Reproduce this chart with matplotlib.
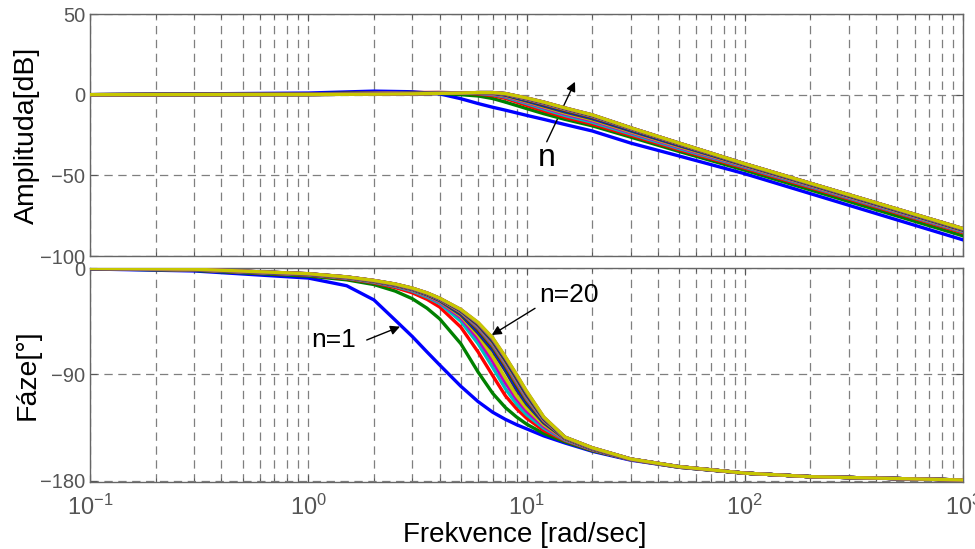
import matplotlib
matplotlib.use('Agg')
import matplotlib.pyplot as plt
from matplotlib.ticker import LogLocator, NullFormatter, FixedLocator

plt.rcParams['font.family'] = ['Liberation Sans', 'DejaVu Sans']
plt.rcParams['lines.scale_dashes'] = False

# ---------------- data ----------------
freq_mag = [0.1, 1, 2, 3, 4, 5, 6, 7, 8, 10, 12, 15, 20, 30, 50, 100, 1000]
mag_01 = [0, 1.0, 2.2, 1.8, 0.5, -2.5, -5.5, -7.8, -9.6, -12.8, -15.3, -18.5, -22.5, -30.0, -38.0, -49.0, -90.0]
mag_02 = [0, 0.5, 1.2, 1.3, 0.8, 0.0, -0.8, -2.4, -4.6, -8.6, -11.8, -15.3, -19.3, -26.3, -35.2, -46.8, -87.5]
mag_03 = [0, 0.4, 1.0, 1.3, 1.4, 1.1, 0.5, -0.6, -2.3, -6.6, -10.0, -14.0, -18.2, -25.2, -34.2, -45.6, -85.6]
mag_04 = [0, 0.35, 0.85, 1.15, 1.3, 1.15, 0.8, 0.0, -1.5, -5.5, -8.9, -12.9, -17.1, -24.3, -33.4, -44.9, -85.0]
mag_05 = [0, 0.3, 0.75, 1.05, 1.2, 1.15, 0.95, 0.35, -1.0, -4.8, -8.1, -12.0, -16.2, -23.5, -32.7, -44.4, -84.6]
mag_06 = [0, 0.25, 0.65, 0.95, 1.1, 1.1, 1.05, 0.6, -0.6, -4.3, -7.5, -11.3, -15.5, -22.9, -32.1, -44.0, -84.3]
mag_07 = [0, 0.22, 0.58, 0.85, 1.0, 1.05, 1.1, 0.8, -0.3, -3.9, -7.0, -10.7, -14.9, -22.4, -31.6, -43.7, -84.0]
mag_08 = [0, 0.2, 0.52, 0.78, 0.95, 1.05, 1.15, 0.95, -0.05, -3.5, -6.5, -10.2, -14.4, -22.0, -31.2, -43.5, -83.8]
mag_09 = [0, 0.18, 0.47, 0.72, 0.92, 1.03, 1.18, 1.05, 0.12, -3.2, -6.1, -9.8, -14.0, -21.6, -30.9, -43.3, -83.6]
mag_10 = [0, 0.16, 0.43, 0.67, 0.89, 1.02, 1.2, 1.12, 0.25, -2.95, -5.8, -9.4, -13.7, -21.3, -30.7, -43.2, -83.5]
mag_11 = [0, 0.15, 0.4, 0.63, 0.87, 1.01, 1.22, 1.17, 0.35, -2.75, -5.5, -9.1, -13.4, -21.1, -30.5, -43.1, -83.4]
mag_12 = [0, 0.14, 0.38, 0.6, 0.85, 1.0, 1.24, 1.21, 0.43, -2.6, -5.3, -8.9, -13.2, -20.95, -30.4, -43.0, -83.3]
mag_13 = [0, 0.13, 0.36, 0.57, 0.84, 1.0, 1.25, 1.24, 0.5, -2.45, -5.1, -8.7, -13.0, -20.8, -30.3, -43.0, -83.25]
mag_14 = [0, 0.12, 0.34, 0.55, 0.83, 1.0, 1.26, 1.26, 0.55, -2.35, -4.95, -8.55, -12.9, -20.7, -30.2, -42.95, -83.2]
mag_15 = [0, 0.12, 0.33, 0.54, 0.82, 1.0, 1.27, 1.27, 0.6, -2.25, -4.85, -8.45, -12.8, -20.65, -30.15, -42.9, -83.15]
mag_16 = [0, 0.11, 0.32, 0.53, 0.81, 1.0, 1.28, 1.28, 0.63, -2.18, -4.75, -8.38, -12.7, -20.6, -30.1, -42.9, -83.1]
mag_17 = [0, 0.11, 0.31, 0.52, 0.81, 1.0, 1.29, 1.29, 0.66, -2.12, -4.68, -8.3, -12.6, -20.55, -30.05, -42.85, -83.05]
mag_18 = [0, 0.1, 0.3, 0.51, 0.8, 1.0, 1.3, 1.3, 0.68, -2.07, -4.63, -8.25, -12.55, -20.52, -30.02, -42.82, -83.03]
mag_19 = [0, 0.1, 0.3, 0.5, 0.8, 1.0, 1.3, 1.3, 0.69, -2.03, -4.6, -8.22, -12.52, -20.5, -30.0, -42.8, -83.01]
mag_20 = [0, 0.1, 0.3, 0.5, 0.8, 1.0, 1.3, 1.3, 0.7, -2.0, -4.6, -8.2, -12.5, -20.5, -30.0, -42.8, -83.0]

freq_phase = [0.1, 0.3, 1, 1.5, 2, 2.5, 3, 3.5, 4, 5, 6, 7, 8, 9, 10, 12, 15, 20, 30, 50, 100, 200, 1000]
phase_01 = [-0.8, -2.5, -8.5, -15, -27, -44, -58, -71, -82, -100, -113, -122, -128, -132.5, -136, -142, -148, -155, -162.5, -168.5, -173.5, -176.5, -179.3]
phase_02 = [-0.6, -2.0, -6.8, -10, -14, -19.5, -26, -34, -43, -64, -88, -106, -118, -126, -132, -140, -147, -154.5, -162, -168.5, -173.5, -176.5, -179.3]
phase_03 = [-0.5, -1.7, -6.0, -9, -12.5, -16.5, -21, -26.5, -33, -50, -71, -91, -108, -119, -127, -137.5, -146, -154, -162, -168.5, -173.5, -176.5, -179.3]
phase_04 = [-0.5, -1.6, -5.7, -8.6, -12, -15.5, -19.5, -24.5, -30, -45, -64, -84, -102, -115, -124, -135.5, -145.5, -153.7, -162, -168.5, -173.5, -176.5, -179.3]
phase_05 = [-0.4, -1.5, -5.5, -8.3, -11.6, -15, -18.8, -23.5, -28.8, -42, -60, -79, -97, -111, -121, -134, -145, -153.5, -162, -168.3, -173.5, -176.5, -179.3]
phase_06 = [-0.4, -1.4, -5.4, -8.1, -11.4, -14.7, -18.4, -23, -28, -40.5, -57, -75, -93, -108, -118.5, -132.5, -144.6, -153.3, -161.9, -168.3, -173.5, -176.5, -179.3]
phase_07 = [-0.4, -1.3, -5.3, -8.0, -11.2, -14.5, -18.1, -22.6, -27.5, -39.5, -55, -70, -87, -103, -115, -131, -144.2, -153.1, -161.8, -168.2, -173.5, -176.5, -179.3]
phase_08 = [-0.4, -1.25, -5.25, -7.95, -11.1, -14.4, -17.95, -22.4, -27.2, -38.8, -53.5, -68.5, -85, -101, -113.5, -130.5, -144, -153, -161.8, -168.2, -173.5, -176.5, -179.3]
phase_09 = [-0.38, -1.2, -5.2, -7.9, -11.0, -14.3, -17.8, -22.2, -26.9, -38.2, -52.3, -67.2, -83.5, -99.3, -112.3, -130, -143.9, -152.9, -161.8, -168.2, -173.5, -176.5, -179.3]
phase_10 = [-0.36, -1.17, -5.15, -7.85, -10.95, -14.2, -17.7, -22.0, -26.7, -37.7, -51.3, -66, -82.2, -97.8, -111.2, -129.5, -143.8, -152.8, -161.7, -168.1, -173.5, -176.5, -179.3]
phase_11 = [-0.35, -1.14, -5.1, -7.8, -10.9, -14.1, -17.6, -21.85, -26.5, -37.2, -50.4, -65, -81, -96.5, -110.2, -129, -143.7, -152.7, -161.7, -168.1, -173.5, -176.5, -179.3]
phase_12 = [-0.34, -1.12, -5.05, -7.75, -10.85, -14.0, -17.5, -21.7, -26.3, -36.8, -49.6, -64, -80, -95.4, -109.2, -128.6, -143.6, -152.6, -161.7, -168.1, -173.5, -176.5, -179.3]
phase_13 = [-0.33, -1.1, -5.0, -7.7, -10.8, -13.9, -17.4, -21.6, -26.15, -36.5, -48.9, -63.1, -79.1, -94.4, -108.3, -128.2, -143.5, -152.5, -161.6, -168.1, -173.5, -176.5, -179.3]
phase_14 = [-0.32, -1.08, -4.97, -7.67, -10.75, -13.8, -17.35, -21.5, -26.0, -36.2, -48.3, -62.3, -78.2, -93.5, -107.5, -127.8, -143.4, -152.4, -161.6, -168.05, -173.5, -176.5, -179.3]
phase_15 = [-0.32, -1.06, -4.94, -7.64, -10.7, -13.75, -17.3, -21.4, -25.9, -35.9, -47.8, -61.6, -77.4, -92.7, -106.7, -127.4, -143.3, -152.3, -161.6, -168.05, -173.5, -176.5, -179.3]
phase_16 = [-0.31, -1.05, -4.9, -7.6, -10.65, -13.7, -17.2, -21.3, -25.8, -35.7, -47.3, -61, -76.7, -92, -106, -127.1, -143.2, -152.2, -161.55, -168.0, -173.5, -176.5, -179.3]
phase_17 = [-0.31, -1.03, -4.87, -7.57, -10.6, -13.65, -17.15, -21.2, -25.7, -35.5, -46.9, -60.4, -76.1, -91.3, -105.3, -126.8, -143.15, -152.1, -161.55, -168.0, -173.5, -176.5, -179.3]
phase_18 = [-0.3, -1.02, -4.85, -7.55, -10.57, -13.6, -17.1, -21.1, -25.65, -35.3, -46.6, -59.9, -75.6, -90.7, -104.8, -126.5, -143.1, -152.05, -161.5, -168.0, -173.5, -176.5, -179.3]
phase_19 = [-0.3, -1.01, -4.82, -7.52, -10.53, -13.55, -17.05, -21.05, -25.6, -35.1, -46.3, -59.4, -75.3, -90.3, -104.4, -126.2, -143.05, -152.02, -161.5, -168.0, -173.5, -176.5, -179.3]
phase_20 = [-0.3, -1.0, -4.8, -7.5, -10.5, -13.5, -17, -21, -25.5, -35, -46, -59, -75, -90, -104, -126, -143, -152, -161.5, -168.0, -173.5, -176.5, -179.3]

mag_curves = [mag_01, mag_02, mag_03, mag_04, mag_05, mag_06, mag_07, mag_08, mag_09, mag_10,
              mag_11, mag_12, mag_13, mag_14, mag_15, mag_16, mag_17, mag_18, mag_19, mag_20]
phase_curves = [phase_01, phase_02, phase_03, phase_04, phase_05, phase_06, phase_07, phase_08, phase_09, phase_10,
                phase_11, phase_12, phase_13, phase_14, phase_15, phase_16, phase_17, phase_18, phase_19, phase_20]

mag_ticks = [-100, -50, 0, 50]
phase_ticks = [-180, -90, 0]

# MATLAB classic colour order
color_order = [(0, 0, 1), (0, 0.5, 0), (1, 0, 0), (0, 0.75, 0.75),
               (0.75, 0, 0.75), (0.78, 0.78, 0), (0.25, 0.25, 0.25)]

# ---------------- figure ----------------
W, H = 975, 549
fig = plt.figure(figsize=(W / 100, H / 100), dpi=100)
ax1 = fig.add_axes([90 / W, 1 - 256 / H, 873 / W, 242 / H])
ax2 = fig.add_axes([90 / W, 1 - 482 / H, 873 / W, 214 / H])

grid_kw = dict(color='#7f7f7f', lw=0.9, ls=(0, (6, 4)))
tick_col = '#555555'

for i, (m, p) in enumerate(zip(mag_curves, phase_curves)):
    c = color_order[i % 7]
    lw = 2.4
    ax1.plot(freq_mag, m, color=c, lw=lw, zorder=3 + i * 0.01)
    ax2.plot(freq_phase, p, color=c, lw=lw, zorder=3 + i * 0.01)

for ax in (ax1, ax2):
    ax.set_xscale('log')
    ax.set_xlim(0.1, 1000)
    ax.xaxis.set_major_locator(LogLocator(base=10, numticks=10))
    ax.xaxis.set_minor_locator(LogLocator(base=10, subs=range(2, 10), numticks=100))
    ax.xaxis.set_minor_formatter(NullFormatter())
    ax.grid(True, which='both', axis='x', **grid_kw)
    ax.grid(True, which='major', axis='y', **grid_kw)
    ax.set_axisbelow(True)
    ax.tick_params(which='both', direction='in', top=True, right=True,
                   color=tick_col, labelcolor=tick_col, labelsize=14.5)
    ax.tick_params(which='major', length=5)
    ax.tick_params(which='minor', length=3)
    for s in ax.spines.values():
        s.set_color('#666666')
        s.set_linewidth(1.0)

ax1.set_ylim(-100, 50)
ax1.yaxis.set_major_locator(FixedLocator(mag_ticks))
ax1.tick_params(labelbottom=False)
ax2.set_ylim(-181, 0)
ax2.yaxis.set_major_locator(FixedLocator(phase_ticks))
ax2.tick_params(axis='x', which='major', labelsize=17, pad=9)

ax1.set_ylabel('Amplituda[dB]', fontsize=20.5)
ax1.yaxis.set_label_coords(-0.057, 0.5)
ax2.set_ylabel('Fáze[°]', fontsize=20.5)
ax2.yaxis.set_label_coords(-0.057, 0.5)
ax2.set_xlabel('Frekvence [rad/sec]', fontsize=20)
ax2.xaxis.set_label_coords(0.498, -0.185)

arrow_kw = dict(arrowstyle='-|>', color='k', lw=1.0, mutation_scale=14, shrinkA=0, shrinkB=0)
ax1.text(12.4, -39.3, 'n', ha='center', va='center', fontsize=23)
ax1.annotate('', xy=(16.68, 8.0), xytext=(12.38, -29.2), arrowprops=arrow_kw)
ax2.text(1.30, -60.9, 'n=1', ha='center', va='center', fontsize=19)
ax2.annotate('', xy=(2.633, -49.6), xytext=(1.853, -60.9), arrowprops=arrow_kw)
ax2.text(15.7, -22.8, 'n=20', ha='center', va='center', fontsize=19)
ax2.annotate('', xy=(6.93, -56.7), xytext=(10.94, -34.1), arrowprops=arrow_kw)

fig.savefig('out.png', dpi=100)
